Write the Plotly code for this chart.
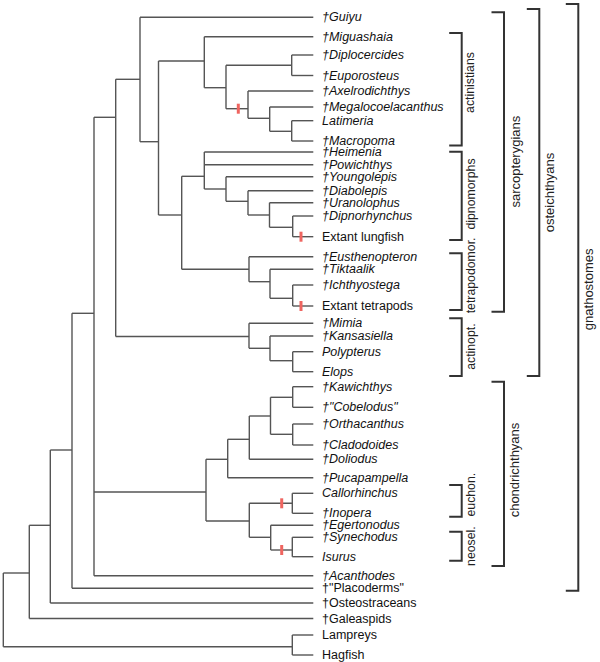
import plotly.graph_objects as go

# ---------------- data ----------------
leaf_names = ["†Guiyu", "†Miguashaia", "†Diplocercides", "†Euporosteus", "†Axelrodichthys",
              "†Megalocoelacanthus", "Latimeria", "†Macropoma", "†Heimenia", "†Powichthys",
              "†Youngolepis", "†Diabolepis", "†Uranolophus", "†Dipnorhynchus", "Extant lungfish",
              "†Eusthenopteron", "†Tiktaalik", "†Ichthyostega", "Extant tetrapods", "†Mimia",
              "†Kansasiella", "Polypterus", "Elops", "†Kawichthys", "†\"Cobelodus\"",
              "†Orthacanthus", "†Cladodoides", "†Doliodus", "†Pucapampella", "Callorhinchus",
              "†Inopera", "†Egertonodus", "†Synechodus", "Isurus", "†Acanthodes",
              "†\"Placoderms\"", "†Osteostraceans", "†Galeaspids", "Lampreys", "Hagfish"]
leaf_y = [17.3, 36.7, 55.0, 75.5, 91.0, 107.0, 120.7, 141.0, 152.0, 164.7,
          176.7, 190.7, 202.7, 216.0, 236.7, 256.7, 269.3, 285.0, 306.0, 323.3,
          336.0, 351.7, 371.7, 386.7, 407.3, 424.0, 445.0, 459.3, 477.7, 493.3,
          513.3, 525.3, 537.3, 556.7, 575.7, 588.3, 603.0, 618.5, 635.0, 655.0]
leaf_italic = [True] * 14 + [False] + [True] * 3 + [False] + [True] * 16 + [False] * 5

# internal nodes: depth (x), attachment height (y), children
node_ids = ["root", "N_ga", "N_os", "N_pl", "N_crown", "N_ost", "N_guiyu", "N_sarc",
            "N_act", "N_a2", "N_de", "N_lat", "N_ml", "N_lm",
            "N_rhip", "N_dip", "N_d2", "N_d3", "N_d4", "N_d5",
            "N_tet", "N_t2", "N_t3",
            "N_actinopt", "N_ap2", "N_ap3",
            "N_chond", "N_c1", "N_c2", "N_c3", "N_c4", "N_c4b", "N_c5", "N_euch", "N_elas", "N_neo",
            "N_cyc"]
node_x = [3.3, 29.3, 50.3, 72.0, 94.0, 115.7, 140.0, 158.5,
          204.3, 226.0, 291.7, 248.0, 269.7, 291.7,
          181.7, 204.3, 226.0, 248.0, 269.5, 292.7,
          249.0, 270.0, 292.7,
          249.0, 270.0, 292.7,
          206.0, 227.7, 249.3, 270.5, 292.7, 292.7, 249.3, 292.3, 270.7, 292.3,
          292.3]
node_y = [609.8, 573.0, 525.3, 450.0, 313.3, 117.3, 79.3, 141.7,
          61.0, 87.7, 65.3, 108.7, 118.3, 131.3,
          215.0, 176.3, 189.0, 201.3, 215.0, 227.3,
          269.3, 281.7, 298.3,
          336.5, 348.3, 360.7,
          492.0, 459.3, 439.3, 416.0, 397.3, 434.3, 521.0, 503.3, 537.3, 550.0,
          646.7]
node_children = [
    ["N_ga", "N_cyc"], ["N_os", "†Galeaspids"], ["N_pl", "†Osteostraceans"],
    ["N_crown", "†\"Placoderms\""], ["N_ost", "N_chond", "†Acanthodes"],
    ["N_guiyu", "N_actinopt"], ["†Guiyu", "N_sarc"], ["N_act", "N_rhip"],
    ["†Miguashaia", "N_a2"], ["N_de", "N_lat"], ["†Diplocercides", "†Euporosteus"],
    ["†Axelrodichthys", "N_ml"], ["†Megalocoelacanthus", "N_lm"], ["Latimeria", "†Macropoma"],
    ["N_dip", "N_tet"], ["†Heimenia", "†Powichthys", "N_d2"], ["†Youngolepis", "N_d3"],
    ["†Diabolepis", "N_d4"], ["†Uranolophus", "N_d5"], ["†Dipnorhynchus", "Extant lungfish"],
    ["†Eusthenopteron", "N_t2"], ["†Tiktaalik", "N_t3"], ["†Ichthyostega", "Extant tetrapods"],
    ["†Mimia", "N_ap2"], ["†Kansasiella", "N_ap3"], ["Polypterus", "Elops"],
    ["N_c1", "N_c5"], ["N_c2", "†Pucapampella"], ["N_c3", "†Doliodus"], ["N_c4", "N_c4b"],
    ["†Kawichthys", "†\"Cobelodus\""], ["†Orthacanthus", "†Cladodoides"],
    ["N_euch", "N_elas"], ["Callorhinchus", "†Inopera"], ["†Egertonodus", "N_neo"],
    ["†Synechodus", "Isurus"],
    ["Lampreys", "Hagfish"]]

# red marks on branches: (branch leading to node/leaf, x position)
mark_branch = ["N_lat", "Extant lungfish", "Extant tetrapods", "N_euch", "N_neo"]
mark_x = [238.3, 301.0, 301.0, 281.7, 281.7]

# clade brackets
group_names = ["actinistians", "dipnomorphs", "tetrapodomor.", "actinopt.", "euchon.",
               "neosel.", "sarcopterygians", "chondrichthyans", "osteichthyans", "gnathostomes"]
group_top = [33.0, 151.7, 253.3, 318.3, 485.0, 531.7, 12.3, 381.7, 9.0, 4.0]
group_bottom = [145.5, 240.0, 310.0, 376.0, 516.7, 560.7, 311.7, 566.0, 376.0, 590.7]
group_level = [0, 0, 0, 0, 0, 0, 1, 1, 2, 3]

# ---------------- layout constants ----------------
TIP_X = 313.3
LABEL_X = 320.0
LEVEL_X = [461.7, 504.0, 539.3, 578.3]
TICK_LEN = 12.5
LABEL_SHIFT = [-7, -2, -6, -1, -6, 0, 0, -4, 0, -8]   # vertical nudges of bracket labels
W, H = 600, 662

pos = {}
for n, y in zip(leaf_names, leaf_y):
    pos[n] = (TIP_X, y)
for n, x, y in zip(node_ids, node_x, node_y):
    pos[n] = (x, y)

tx, ty = [], []
for n, x, ch in zip(node_ids, node_x, node_children):
    ys = [pos[c][1] for c in ch]
    tx += [x, x, None]
    ty += [min(ys), max(ys), None]
    for c in ch:
        cx, cy = pos[c]
        tx += [x, cx, None]
        ty += [cy, cy, None]

fig = go.Figure()
fig.add_trace(go.Scatter(x=tx, y=ty, mode="lines", line=dict(color="#555555", width=1.4),
                         hoverinfo="skip", showlegend=False))

mx, my = [], []
for b, x in zip(mark_branch, mark_x):
    y = pos[b][1]
    mx += [x, x, None]
    my += [y - 5, y + 5, None]
fig.add_trace(go.Scatter(x=mx, y=my, mode="lines", line=dict(color="#ef6560", width=3),
                         hoverinfo="skip", showlegend=False))

bx, by = [], []
for top, bot, lev in zip(group_top, group_bottom, group_level):
    x = LEVEL_X[lev]
    bx += [x - TICK_LEN, x, x, x - TICK_LEN, None]
    by += [top, top, bot, bot, None]
fig.add_trace(go.Scatter(x=bx, y=by, mode="lines", line=dict(color="#333333", width=2),
                         hoverinfo="skip", showlegend=False))

ann = []
for n, y, it in zip(leaf_names, leaf_y, leaf_italic):
    ann.append(dict(x=LABEL_X, y=y, text=f"<i>{n}</i>" if it else n, showarrow=False,
                    xanchor="left", yanchor="middle",
                    font=dict(family="Liberation Sans, Arial, sans-serif", size=12.5, color="#111111")))
for g, top, bot, lev, sh in zip(group_names, group_top, group_bottom, group_level, LABEL_SHIFT):
    off = 9 if lev == 0 else 10.5
    ann.append(dict(x=LEVEL_X[lev] + off, y=(top + bot) / 2 + sh, text=g, showarrow=False,
                    textangle=-90, xanchor="center", yanchor="middle",
                    font=dict(family="Liberation Sans, Arial, sans-serif",
                              size=12.3 if lev == 0 else 13, color="#222222")))

fig.update_layout(width=W, height=H, margin=dict(l=0, r=0, t=0, b=0),
                  plot_bgcolor="white", paper_bgcolor="white", annotations=ann,
                  xaxis=dict(range=[0, W], visible=False, fixedrange=True),
                  yaxis=dict(range=[H, 0], visible=False, fixedrange=True))
fig.write_html("out.html", config={"displayModeBar": False},
               post_script="document.body.style.margin='0';document.body.style.padding='0';"
                           "document.body.style.overflow='hidden';")
